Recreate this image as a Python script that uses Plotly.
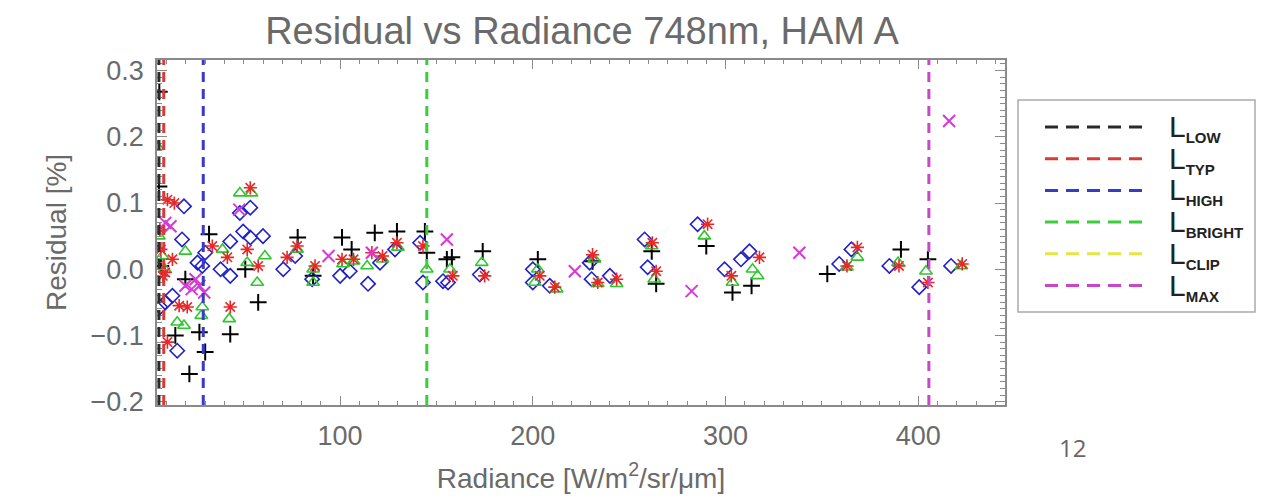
import plotly.graph_objects as go

# ---------------- data ----------------
black_x = [6.2, 6.0, 7.0, 32.0, 19.7, 14.5, 27.0, 30.0, 21.8, 43.0, 50.8, 57.5, 78.0, 86.0,
           101.0, 106.0, 118.0, 129.5, 144.0, 145.0, 155.4, 158.0, 174.0, 202.6, 231.0,
           261.7, 264.0, 290.0, 303.6, 313.5, 352.8, 391.0, 405.0]
black_y = [0.268, 0.125, 0.005, 0.053, -0.015, -0.100, -0.095, -0.125, -0.158, -0.098, 0.000,
           -0.050, 0.048, -0.010, 0.048, 0.030, 0.055, 0.057, 0.057, 0.025, 0.015, 0.018,
           0.027, 0.015, 0.012, 0.027, -0.022, 0.035, -0.035, -0.025, -0.007, 0.030, 0.015]

red_x = [7.0, 8.0, 6.5, 10.4, 14.0, 13.0, 9.3, 16.5, 20.7, 10.4, 33.7, 41.5, 43.0, 53.4, 51.8,
         57.5, 72.5, 77.7, 87.0, 101.0, 107.0, 116.5, 122.0, 129.5, 143.0, 158.5, 175.0,
         203.6, 211.4, 231.0, 233.7, 243.5, 262.0, 264.0, 290.7, 303.0, 317.6, 368.4, 363.0,
         390.0, 405.0, 422.8]
red_y = [0.030, -0.010, 0.060, 0.105, 0.100, 0.015, -0.005, -0.055, -0.057, -0.110, 0.035,
         0.018, -0.057, 0.123, 0.030, 0.005, 0.018, 0.035, 0.005, 0.015, 0.015, 0.025, 0.020,
         0.040, 0.035, -0.010, -0.010, -0.010, -0.027, 0.022, -0.020, -0.015, 0.040, -0.003,
         0.068, -0.010, 0.018, 0.033, 0.005, 0.005, -0.020, 0.008]

blue_x = [19.0, 18.0, 28.5, 26.0, 30.0, 9.3, 13.0, 6.7, 15.5, 43.0, 38.0, 43.0, 53.4, 48.0,
          49.7, 53.4, 60.0, 70.5, 76.7, 85.5, 100.0, 105.0, 114.5, 120.7, 128.5, 141.5, 143.0,
          153.4, 156.0, 172.5, 200.0, 200.0, 208.8, 229.5, 230.5, 240.0, 258.0, 259.6, 285.5,
          299.5, 308.0, 312.4, 359.0, 365.3, 385.0, 400.5, 417.0]
blue_y = [0.095, 0.045, 0.005, 0.010, 0.025, -0.050, -0.040, -0.057, -0.123, 0.042, 0.000,
          -0.010, 0.093, 0.085, 0.057, 0.048, 0.050, 0.000, 0.020, -0.015, -0.010, -0.003,
          -0.022, 0.010, 0.030, 0.040, -0.020, -0.018, -0.020, -0.008, 0.000, -0.020, -0.025,
          0.010, -0.015, -0.010, 0.045, 0.003, 0.068, 0.000, 0.015, 0.027, 0.008, 0.030,
          0.005, -0.027, 0.005]

green_x = [5.2, 19.7, 7.8, 28.5, 28.0, 15.5, 19.0, 9.0, 6.0, 39.0, 42.5, 48.0, 54.0, 51.8,
           61.0, 57.0, 77.7, 86.0, 86.0, 101.5, 107.0, 114.0, 122.0, 130.0, 145.0, 157.0,
           173.5, 202.6, 201.0, 212.4, 232.0, 233.7, 243.5, 261.7, 263.0, 289.0, 303.6, 314.0,
           316.6, 368.4, 363.0, 389.5, 404.0, 422.3]
green_y = [0.185, 0.027, 0.020, -0.057, -0.070, -0.080, -0.085, 0.000, 0.050, 0.030, -0.075,
           0.115, 0.115, 0.010, 0.020, -0.020, 0.030, 0.000, -0.020, 0.008, 0.012, 0.005,
           0.015, 0.033, 0.000, 0.000, 0.010, 0.000, -0.020, -0.030, 0.015, -0.022, -0.022,
           0.035, -0.015, 0.050, -0.020, 0.000, -0.010, 0.018, 0.003, 0.010, -0.003, 0.005]

magenta_x = [9.3, 12.0, 23.0, 27.0, 29.5, 19.7, 25.0, 47.7, 94.0, 116.5, 155.4, 221.8,
             282.4, 338.3, 416.0]
magenta_y = [0.070, 0.065, -0.030, -0.025, -0.035, -0.025, -0.015, 0.090, 0.020, 0.025,
             0.045, -0.003, -0.033, 0.025, 0.224]

level_names = ["LOW", "TYP", "HIGH", "BRIGHT", "CLIP", "MAX"]
level_x = [6.0, 8.5, 29.0, 145.0, None, 405.5]
level_colors = ["#2a2a2a", "#d83a3a", "#3a3ac8", "#3ccc3c", "#e6e640", "#c846c8"]

x_ticks = [100, 200, 300, 400]
y_ticks = [-0.2, -0.1, 0.0, 0.1, 0.2, 0.3]

# ---------------- figure ----------------
W, H = 1261, 502
L, R, T, B = 157, 256, 60, 97
pw, ph = W - L - R, H - T - B

def px_x(p):
    return (p - L) / pw

def px_y(p):
    return (H - B - p) / ph

fig = go.Figure()

series = [
    (black_x, black_y, "cross-thin", "#000000", 12, 2.0),
    (blue_x, blue_y, "diamond-open", "#2020c8", 11, 1.6),
    (green_x, green_y, "triangle-up-open", "#2ec82e", 11, 1.6),
    (red_x, red_y, "asterisk", "#e82828", 11, 1.6),
    (magenta_x, magenta_y, "x-thin", "#d838d8", 12, 2.0),
]
for xs, ys, sym, col, sz, lw in series:
    fig.add_trace(go.Scatter(
        x=xs, y=ys, mode="markers", showlegend=False, hoverinfo="skip",
        marker=dict(symbol=sym, size=sz, color=col, line=dict(color=col, width=lw)),
    ))

# vertical dashed level lines
for xv, col in zip(level_x, level_colors):
    if xv is None:
        continue
    fig.add_shape(type="line", xref="x", yref="paper", x0=xv, x1=xv, y0=0, y1=1,
                  line=dict(color=col, width=3, dash="10px,7px"), layer="above")

# manual legend
fig.add_shape(type="rect", xref="paper", yref="paper",
              x0=px_x(1018), x1=px_x(1255), y0=px_y(312), y1=px_y(100),
              line=dict(color="#aaaaaa", width=1.5), fillcolor="white", layer="below")
for i, (name, col) in enumerate(zip(level_names, level_colors)):
    yy = 127 + i * 31.7
    fig.add_shape(type="line", xref="paper", yref="paper",
                  x0=px_x(1045), x1=px_x(1142), y0=px_y(yy), y1=px_y(yy),
                  line=dict(color=col, width=3, dash="13px,8px"))
    fig.add_annotation(xref="paper", yref="paper", x=px_x(1167), y=px_y(yy + 1),
                       xanchor="left", yanchor="middle", showarrow=False,
                       text="L<sub><span style='font-size:15px'><b>%s</b></span></sub>" % name,
                       font=dict(family="Liberation Sans, Arial", size=30, color="#222222"))

# slide number
fig.add_annotation(xref="paper", yref="paper", x=px_x(1072), y=px_y(447),
                   xanchor="center", yanchor="middle", showarrow=False, text="12",
                   font=dict(family="Open Sans, Liberation Sans", size=24, color="#666666"))

axis_common = dict(
    showgrid=False, zeroline=False, showline=True, linecolor="#8a8a8a", linewidth=1.5,
    mirror="ticks", ticks="inside", tickcolor="#8a8a8a", tickwidth=1.2,
    tickfont=dict(family="Liberation Sans, Arial", size=27, color="#6a6a6a"),
)

fig.update_layout(
    width=W, height=H,
    margin=dict(l=L, r=R, t=T, b=B, pad=0),
    paper_bgcolor="white", plot_bgcolor="white",
    title=dict(text="Residual vs Radiance 748nm, HAM A", xref="paper", x=px_x(582),
               xanchor="center", yref="container", y=1 - 31 / H, yanchor="middle",
               font=dict(family="Liberation Sans, Arial", size=38, color="#6a6a6a")),
    xaxis=dict(range=[5, 445], tickvals=x_ticks, ticklen=9,
               minor=dict(dtick=10, tick0=0, ticklen=4, ticks="inside", tickcolor="#8a8a8a"),
               ticklabelstandoff=6,
               title=dict(text="Radiance [W/m<sup>2</sup>/sr/μm]", standoff=18,
                          font=dict(family="Liberation Sans, Arial", size=28, color="#6a6a6a")),
               **axis_common),
    yaxis=dict(range=[-0.205, 0.316], tickvals=y_ticks, tickformat=".1f", ticklen=10,
               minor=dict(dtick=0.01, tick0=0, ticklen=5, ticks="inside", tickcolor="#8a8a8a"),
               ticklabelstandoff=6,
               title=dict(text="Residual [%]", standoff=16,
                          font=dict(family="Liberation Sans, Arial", size=28, color="#6a6a6a")),
               **axis_common),
)

fig.write_html("out.html", config={"displayModeBar": False},
               post_script="document.body.style.margin='0';")
